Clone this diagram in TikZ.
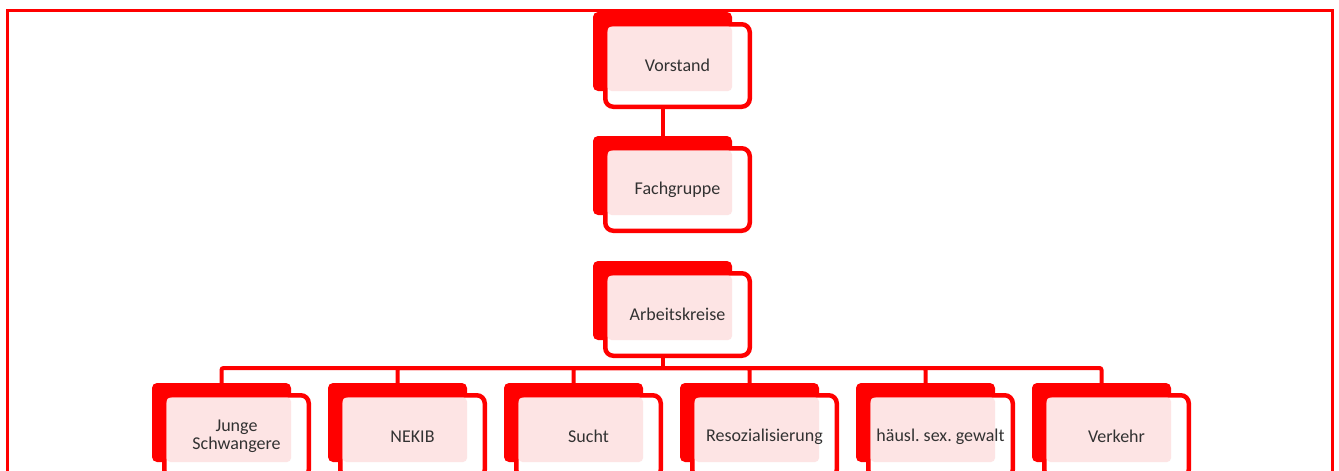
\documentclass[tikz,border=0pt]{standalone}
\usepackage{fontspec}
\setmainfont{Carlito}
\usetikzlibrary{positioning}

\definecolor{akred}{RGB}{255,0,0}
\definecolor{aktint}{RGB}{253,228,228}
\definecolor{aktext}{RGB}{50,50,50}

\tikzset{
  backbox/.style={fill=akred, rounded corners=5pt, minimum width=139pt,
    minimum height=79pt, inner sep=0pt},
  frontbox/.style={draw=akred, line width=4.5pt, fill=white, rounded corners=8pt,
    minimum width=144.5pt, minimum height=82.5pt, inner sep=0pt},
  tintbox/.style={fill=aktint, rounded corners=4pt, minimum width=124.5pt,
    minimum height=64.5pt, inner sep=0pt},
  boxtext/.style={text=aktext, align=center, inner sep=0pt,
    font=\fontsize{18}{18.5}\selectfont},
  link/.style={draw=akred, line width=4pt, rounded corners=2pt}
}

\begin{document}
\begin{tikzpicture}[x=1pt, y=-1pt]
  \useasboundingbox (0,0) rectangle (1339,471);
  \clip (0,0) rectangle (1339,471);

  % Frame
  \draw[akred, line width=3pt] (7,10) rectangle (1332,495);

  % Back plates
  \node[backbox] (vorstand) at (662.5,51.5) {};
  \node[backbox] (fachgruppe) at (662.5,175.5) {};
  \node[backbox] (arbeitskreise) at (662.5,300.5) {};
  \foreach \name/\x in {junge/221.5, nekib/397.5, sucht/573.5,
      resoz/749.5, gewalt/925.5, verkehr/1101.5}
    \node[backbox] (\name) at (\x,422.5) {};

  % Edges
  \coordinate (bus) at (662.5,368);
  \draw[link] (vorstand.south) -- (fachgruppe.north);
  \draw[link] (arbeitskreise.south) -- (bus);
  \foreach \name in {junge, nekib, sucht, resoz, gewalt, verkehr}
    \draw[link] (bus) -| (\name.north);

  % Front boxes and texts
  \foreach \name/\txt in {vorstand/Vorstand, fachgruppe/Fachgruppe,
      arbeitskreise/Arbeitskreise, junge/{Junge\\Schwangere}, nekib/NEKIB,
      sucht/Sucht, resoz/Resozialisierung, gewalt/{häusl.\ sex.\ gewalt},
      verkehr/Verkehr} {
    \node[frontbox] (\name-front) at ([xshift=15pt, yshift=-14pt]\name.center) {};
    \node[tintbox] (\name-tint) at ([xshift=7.25pt, yshift=-7.25pt]\name.center) {};
    \node[boxtext] (\name-text) at (\name-front.center) {\txt};
  }
\end{tikzpicture}
\end{document}
